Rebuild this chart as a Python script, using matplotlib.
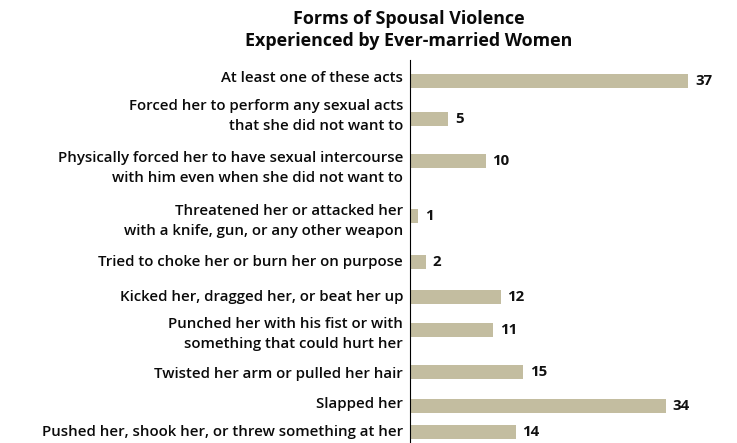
import matplotlib
matplotlib.use("Agg")
import matplotlib.pyplot as plt

# chart values
labels = [
    "At least one of these acts",
    "Forced her to perform any sexual acts\nthat she did not want to",
    "Physically forced her to have sexual intercourse\nwith him even when she did not want to",
    "Threatened her or attacked her\nwith a knife, gun, or any other weapon",
    "Tried to choke her or burn her on purpose",
    "Kicked her, dragged her, or beat her up",
    "Punched her with his fist or with\nsomething that could hurt her",
    "Twisted her arm or pulled her hair",
    "Slapped her",
    "Pushed her, shook her, or threw something at her",
]
values = [37, 5, 10, 1, 2, 12, 11, 15, 34, 14]

# layout: row centres (pixels from top) and label centres
row_y = [81, 119, 161, 216, 262, 297, 330, 372, 406, 432]
label_y = [78, 116, 168, 221, 262, 297, 334, 374, 404, 432]

W, H = 737, 443
fig = plt.figure(figsize=(W / 100, H / 100), dpi=100)
plt.rcParams['font.family'] = ['Open Sans', 'DejaVu Sans']

x0 = 410
ax = fig.add_axes([x0 / W, 0, 1 - x0 / W, (H - 60) / H])
ax.set_ylim(H, 60)
ax.set_xlim(0, (W - x0) / 7.5)

ax.barh(row_y, values, height=13.5, color="#C3BDA0", left=0.1)
for y, v in zip(row_y, values):
    ax.text(v + 1.0, y, str(v), va="center", ha="left",
            fontsize=10.8, fontweight="bold", color="#111111")

for y, lab in zip(label_y, labels):
    ax.text(-0.9, y, lab, va="center", ha="right", multialignment="right",
            fontsize=10.8, fontweight="semibold", color="#0a0a0a",
            linespacing=1.5, clip_on=False)

for s in ["top", "right", "bottom"]:
    ax.spines[s].set_visible(False)
ax.spines["left"].set_linewidth(0.8)
ax.set_xticks([])
ax.set_yticks([])

fig.text(409 / W, 1 - 30 / H, "Forms of Spousal Violence\nExperienced by Ever-married Women",
         ha="center", va="center", fontsize=12.9, fontweight="bold",
         color="#0a0a0a", linespacing=1.3)

fig.savefig("out.png", dpi=100)
